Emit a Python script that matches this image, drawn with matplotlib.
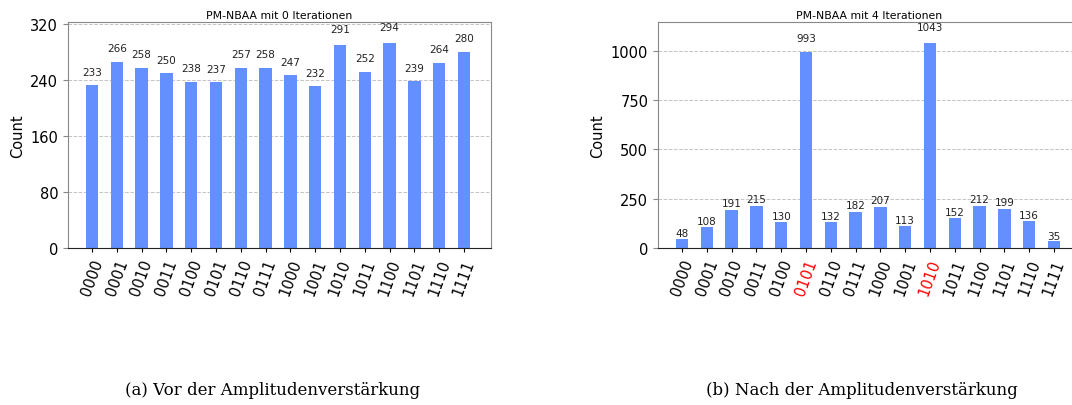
import numpy as np
import matplotlib
matplotlib.use("Agg")
import matplotlib.pyplot as plt

# bitstring outcomes and measured counts
states = ['0000', '0001', '0010', '0011', '0100', '0101', '0110', '0111',
          '1000', '1001', '1010', '1011', '1100', '1101', '1110', '1111']
counts_0_iter = [233, 266, 258, 250, 238, 237, 257, 258, 247, 232, 291, 252, 294, 239, 264, 280]
counts_4_iter = [48, 108, 191, 215, 130, 993, 132, 182, 207, 113, 1043, 152, 212, 199, 136, 35]
marked_states = ['0101', '1010']

titles = ['PM-NBAA mit 0 Iterationen', 'PM-NBAA mit 4 Iterationen']
captions = ['(a) Vor der Amplitudenverstärkung', '(b) Nach der Amplitudenverstärkung']
yticks_list = [[0, 80, 160, 240, 320], [0, 250, 500, 750, 1000]]

BAR_COLOR = '#648fff'


def draw_hist(ax, counts, title, yticks, highlight=()):
    x = np.arange(len(states))
    bars = ax.bar(x, counts, width=0.5, color=BAR_COLOR, zorder=2)
    for rect, h in zip(bars, counts):
        ax.text(rect.get_x() + rect.get_width() / 2, 1.05 * h, str(h),
                ha='center', va='bottom', fontsize=7.5, color='#222222')
    ax.set_xlim(-0.97, 16.09)
    ax.set_ylim(0, max(counts) * 1.1)
    ax.set_xticks(x)
    ax.set_xticklabels(states, rotation=70, fontsize=10.5)
    for lbl in ax.get_xticklabels():
        if lbl.get_text() in highlight:
            lbl.set_color('red')
    ax.set_yticks(yticks)
    ax.tick_params(axis='y', labelsize=10.5, color='#888888')
    ax.tick_params(axis='x', length=3)
    ax.set_ylabel('Count', fontsize=10.5)
    ax.set_title(title, fontsize=7.8, pad=3)
    ax.grid(True, axis='y', linestyle='--', color='#c4c4c4', linewidth=0.7, zorder=0)
    for side in ['left', 'top', 'right']:
        ax.spines[side].set_color('#888888')
    ax.spines['bottom'].set_color('#222222')


fig = plt.figure(figsize=(10.72, 4.06), dpi=100)
ax1 = fig.add_axes([0.0634, 0.3867, 0.3946, 0.5567])
ax2 = fig.add_axes([0.6138, 0.3867, 0.3946, 0.5567])

draw_hist(ax1, counts_0_iter, titles[0], yticks_list[0])
draw_hist(ax2, counts_4_iter, titles[1], yticks_list[1], highlight=marked_states)

fig.text(0.254, 0.028, captions[0], ha='center', va='baseline',
         fontsize=12, family='DejaVu Serif')
fig.text(0.804, 0.028, captions[1], ha='center', va='baseline',
         fontsize=12, family='DejaVu Serif')

fig.savefig('out.png', dpi=100)
